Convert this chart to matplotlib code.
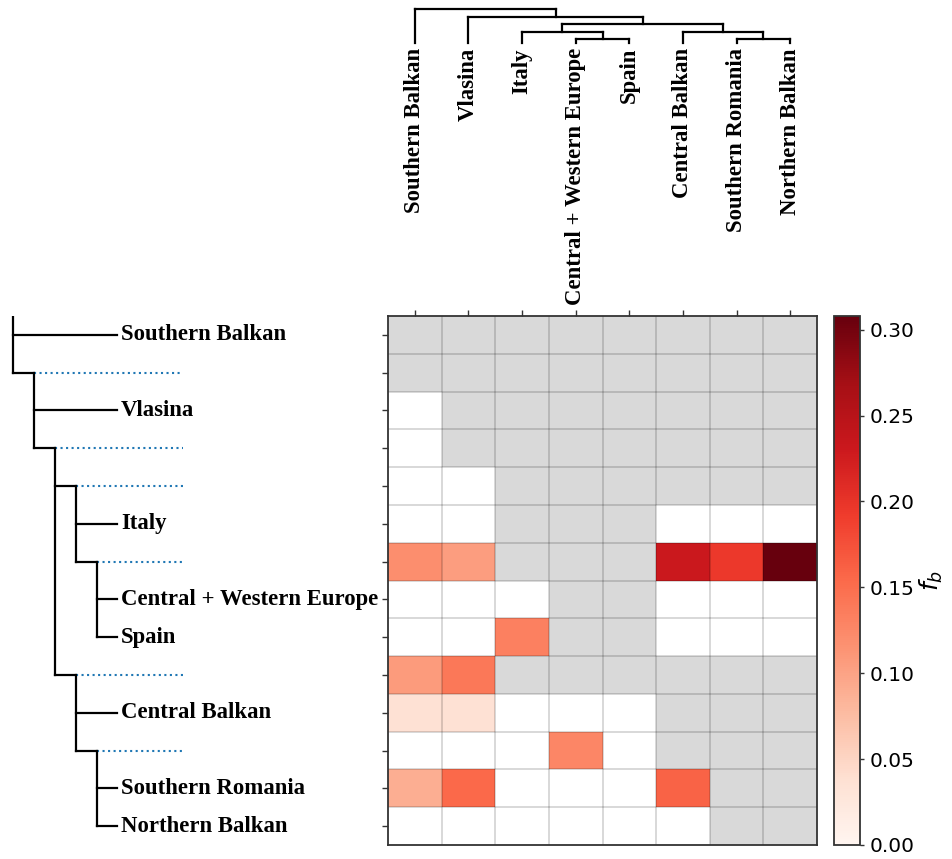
import numpy as np
import matplotlib
matplotlib.use('Agg')
import matplotlib.pyplot as plt
from matplotlib import colors

# population tree (nested tuples) and leaf order along the columns
tree = ('Southern Balkan',
        ('Vlasina',
         (('Italy', ('Central + Western Europe', 'Spain')),
          ('Central Balkan', ('Southern Romania', 'Northern Balkan')))))

leaves = ['Southern Balkan', 'Vlasina', 'Italy', 'Central + Western Europe',
          'Spain', 'Central Balkan', 'Southern Romania', 'Northern Balkan']

nan = np.nan
# f-branch values: one row per branch (preorder), one column per population
fb_rows = [
    [nan, nan, nan, nan, nan, nan, nan, nan],
    [nan, nan, nan, nan, nan, nan, nan, nan],
    [0.0, nan, nan, nan, nan, nan, nan, nan],
    [0.0, nan, nan, nan, nan, nan, nan, nan],
    [0.0, 0.0, nan, nan, nan, nan, nan, nan],
    [0.0, 0.0, nan, nan, nan, 0.0, 0.0, 0.0],
    [0.120, 0.105, nan, nan, nan, 0.232, 0.195, 0.308],
    [0.0, 0.0, 0.0, nan, nan, 0.0, 0.0, 0.0],
    [0.0, 0.0, 0.133, nan, nan, 0.0, 0.0, 0.0],
    [0.108, 0.140, nan, nan, nan, nan, nan, nan],
    [0.037, 0.037, 0.0, 0.0, 0.0, nan, nan, nan],
    [0.0, 0.0, 0.0, 0.127, 0.0, nan, nan, nan],
    [0.090, 0.155, 0.0, 0.0, 0.0, 0.160, nan, nan],
    [0.0, 0.0, 0.0, 0.0, 0.0, 0.0, nan, nan],
]
cbar_ticks = [0.0, 0.05, 0.10, 0.15, 0.20, 0.25, 0.30]

fb_arr = np.array(fb_rows)
n_rows, n_cols = fb_arr.shape

W, H = 952, 859
fig = plt.figure(figsize=(W / 100, H / 100), dpi=100)

def px_axes(x0, y0, x1, y1):
    return fig.add_axes([x0 / W, 1 - y1 / H, (x1 - x0) / W, (y1 - y0) / H])

lab_font = dict(family='Liberation Serif', fontweight='bold', fontsize=16.4)
lw = 1.6

########################################################################
# heatmap: grey = not tested, white = zero, Reds for f_b > 0
ax = px_axes(388, 316, 817, 845)
xe, ye = np.arange(n_cols + 1), np.arange(n_rows + 1)
ax.pcolormesh(xe, ye, np.isnan(fb_arr).astype(float),
              cmap=colors.ListedColormap(['white', '#d9d9d9']), vmin=0, vmax=1)
cmap = plt.get_cmap('Reds').copy()
cmap.set_bad((0, 0, 0, 0))
norm = colors.Normalize(vmin=0, vmax=np.nanmax(fb_arr))
pos = np.ma.masked_where(~(fb_arr > 0), fb_arr)
mesh = ax.pcolormesh(xe, ye, pos, cmap=cmap, norm=norm)
ax.hlines(ye[1:-1], 0, n_cols, color='k', alpha=0.18, lw=1.2)
ax.vlines(xe[1:-1], 0, n_rows, color='k', alpha=0.18, lw=1.2)
ax.set_xlim(0, n_cols)
ax.set_ylim(n_rows, 0)
ax.set_xticks(np.arange(n_cols) + 0.5)
ax.set_yticks(np.arange(n_rows) + 0.5)
ax.tick_params(top=True, bottom=False, labeltop=False, labelbottom=False,
               labelleft=False, length=4, width=1, color='#333333')
for s in ax.spines.values():
    s.set_color('#333333')
    s.set_linewidth(1.3)

# colorbar
cax = px_axes(834, 316, 860, 845)
cb = fig.colorbar(mesh, cax=cax, ticks=cbar_ticks, format='%.2f')
cb.ax.tick_params(labelsize=14.5, length=3, width=1, color='#333333', pad=4)
cb.outline.set_edgecolor('#333333')
cb.outline.set_linewidth(1.3)
cb.set_label('$f_b$', fontsize=18, labelpad=2)

########################################################################
# dendrogram above the heatmap
ax_t = px_axes(388, 0, 817, 316)
ax_t.set_xlim(0, n_cols)
ax_t.set_ylim(40.93, -1.2)
ax_t.axis('off')
leaf_y = 4.5

def draw_top(node, depth):
    if isinstance(node, str):
        return leaves.index(node) + 0.5, leaf_y
    pts = [draw_top(c, depth + 1) for c in node]
    xs = [p[0] for p in pts]
    for x, y in pts:
        ax_t.plot([x, x], [depth, y], 'k-', lw=lw, solid_capstyle='projecting')
    ax_t.plot([min(xs), max(xs)], [depth, depth], 'k-', lw=lw, solid_capstyle='projecting')
    return np.mean(xs), depth

draw_top(tree, 0)
for i, name in enumerate(leaves):
    ax_t.text(i + 0.5, 5.2, name, rotation=90, ha='center', va='top', **lab_font)

########################################################################
# branch tree on the left, one row per branch
ax_l = px_axes(0, 316, 388, 845)
ax_l.set_xlim(-0.619, 17.857)
ax_l.set_ylim(n_rows, 0)
ax_l.axis('off')
leaf_x, label_x, dot_x = 4.95, 5.15, 8.1
row = [0]

def draw_left(node, depth, own_y):
    child_y = []
    for child in node:
        y = row[0] + 0.5
        row[0] += 1
        child_y.append(y)
        if isinstance(child, str):
            ax_l.plot([depth, leaf_x], [y, y], 'k-', lw=lw)
            ax_l.text(label_x, y, child, ha='left', va='center', **lab_font)
        else:
            ax_l.plot([depth, depth + 1], [y, y], 'k-', lw=lw)
            ax_l.plot([depth + 1, dot_x], [y, y], ':', color='tab:blue', lw=1.5)
            draw_left(child, depth + 1, y)
    ax_l.plot([depth, depth], [own_y, child_y[-1]], 'k-', lw=lw, solid_capstyle='projecting')

draw_left(tree, 0, 0)

plt.savefig('out.png', dpi=100)
